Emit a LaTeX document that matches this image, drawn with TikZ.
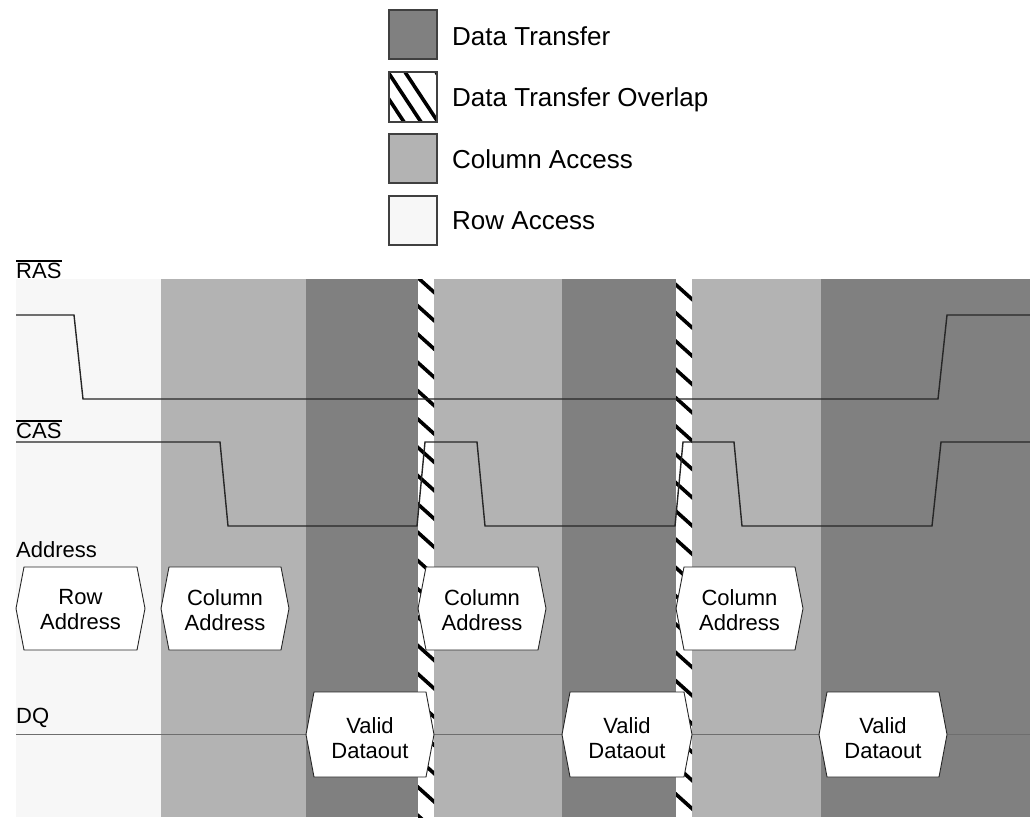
\documentclass[tikz,border=0pt]{standalone}
\usepackage{fontspec}
\setmainfont{Liberation Sans}
\definecolor{rowc}{RGB}{247,247,247}
\definecolor{colc}{RGB}{179,179,179}
\definecolor{datc}{RGB}{128,128,128}
\definecolor{dqc}{RGB}{110,110,110}
\newcommand\hexsig[7]{%
  \path[hexshape] (#2,{(#4+#5)/2}) -- (#2+8,#4) -- (#3-8,#4) -- (#3,{(#4+#5)/2}) -- (#3-8,#5) -- (#2+8,#5) -- cycle;
  \node[hextext] (#1) at ({(#2+#3)/2},{(#4+#5)/2+#6}) {#7};}
\newcommand\hatchstripe[3]{%
  \begin{scope}
    \clip (#1,279) rectangle (#2,817);
    \fill[white] (#1,279) rectangle (#2,817);
    \foreach \k in {0,...,20}
      \draw[hatchline] (#1-2,{#3+28.3*\k-2}) -- (#2+2,{#3+28.3*\k+16});
  \end{scope}}
\begin{document}
\begin{tikzpicture}[x=1pt,y=-1pt,
  sig/.style={line width=1.4pt, black!85},
  hatchline/.style={line width=3.6pt, black},
  hexshape/.style={fill=white, draw=black!85, line width=0.9pt},
  hextext/.style={align=center, inner sep=0pt, font=\fontsize{22}{25}\selectfont},
  lbl/.style={anchor=base west, inner sep=0pt, font=\fontsize{22}{25}\selectfont},
  legtext/.style={anchor=base west, inner sep=0pt, font=\fontsize{26}{30}\selectfont},
  legbox/.style={draw=black!75, line width=1.2pt}]
\useasboundingbox (0,0) rectangle (1030,817);
% background phases
\fill[rowc] (16,279) rectangle (161,817);
\fill[colc] (161,279) rectangle (306,817);
\fill[datc] (306,279) rectangle (418,817);
\fill[colc] (434,279) rectangle (562,817);
\fill[datc] (562,279) rectangle (676,817);
\fill[colc] (692,279) rectangle (821,817);
\fill[datc] (821,279) rectangle (1030,817);
\hatchstripe{418}{434}{278}
\hatchstripe{676}{692}{285}
% DQ line
\draw[dqc, line width=1pt] (16,734) -- (1030,734);
% RAS
\draw[sig] (16,315) -- (74,315) -- (83,399) -- (938,399) -- (947,315) -- (1030,315);
% CAS
\draw[sig] (16,442) -- (220,442) -- (228,526) -- (417,526) -- (425,442) -- (477,442) -- (485,526)
  -- (675,526) -- (683,442) -- (734,442) -- (742,526) -- (932,526) -- (941,442) -- (1030,442);
% address hexagons
\hexsig{ra}{16}{145}{567}{650}{1.5}{Row\\Address}
\hexsig{ca1}{161}{289}{567}{650}{1.5}{Column\\Address}
\hexsig{ca2}{418}{546}{567}{650}{1.5}{Column\\Address}
\hexsig{ca3}{676}{803}{567}{650}{1.5}{Column\\Address}
% data hexagons
\hexsig{dq1}{306}{434}{692}{777}{3.5}{Valid\\Dataout}
\hexsig{dq2}{562}{692}{692}{777}{3.5}{Valid\\Dataout}
\hexsig{dq3}{819}{947}{692}{777}{3.5}{Valid\\Dataout}
% signal labels
\node[lbl] (ras) at (16,278) {RAS};
\draw[line width=1.2pt] ([yshift=1.5pt]ras.north west) -- ([yshift=1.5pt]ras.north east);
\node[lbl] (cas) at (16,438) {CAS};
\draw[line width=1.2pt] ([yshift=1.5pt]cas.north west) -- ([yshift=1.5pt]cas.north east);
\node[lbl] (addr) at (16,557) {Address};
\node[lbl] (dq) at (16,723) {DQ};
% legend
\fill[datc] (389,10) rectangle (437,59);
\draw[legbox] (389,10) rectangle (437,59);
\begin{scope}
  \clip (389,72) rectangle (437,122);
  \fill[white] (389,72) rectangle (437,122);
  \foreach \s in {371,388,405,436}
    \draw[hatchline] (\s,72) -- (\s+33,122);
\end{scope}
\draw[legbox] (389,72) rectangle (437,122);
\fill[colc] (389,134) rectangle (437,183);
\draw[legbox] (389,134) rectangle (437,183);
\fill[rowc] (389,196) rectangle (437,245);
\draw[legbox] (389,196) rectangle (437,245);
\node[legtext] (l1) at (452,45) {Data Transfer};
\node[legtext] (l2) at (452,106) {Data Transfer Overlap};
\node[legtext] (l3) at (452,168) {Column Access};
\node[legtext] (l4) at (452,229) {Row Access};
\end{tikzpicture}
\end{document}
